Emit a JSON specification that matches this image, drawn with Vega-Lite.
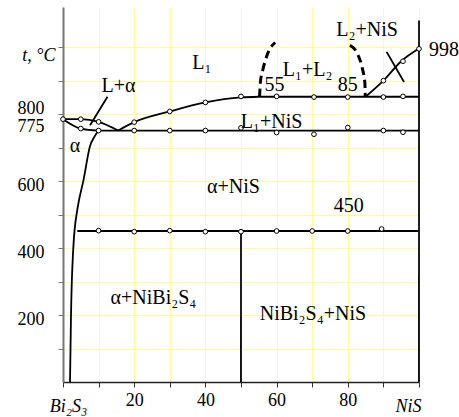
{
  "$schema": "https://vega.github.io/schema/vega-lite/v6.json",
  "width": 356,
  "height": 375,
  "autosize": {"type": "none"},
  "padding": {"left": 63, "top": 7, "right": 40, "bottom": 35},
  "config": {"view": {"stroke": null}, "font": "'Liberation Serif', 'Times New Roman', 'DejaVu Serif', serif"},
  "datasets": {
    "solid": [
      {"id": "liqL", "x": 0, "y": 785}, {"id": "liqL", "x": 5, "y": 785}, {"id": "liqL", "x": 10, "y": 777}, {"id": "liqL", "x": 15.5, "y": 751},
      {"id": "sol", "x": 0, "y": 785}, {"id": "sol", "x": 5, "y": 757}, {"id": "sol", "x": 10, "y": 751},
      {"id": "liqR", "x": 15.5, "y": 751}, {"id": "liqR", "x": 20, "y": 776}, {"id": "liqR", "x": 30, "y": 808}, {"id": "liqR", "x": 40, "y": 835}, {"id": "liqR", "x": 50, "y": 850}, {"id": "liqR", "x": 55, "y": 852},
      {"id": "mono", "x": 55, "y": 852}, {"id": "mono", "x": 100, "y": 852},
      {"id": "eut", "x": 10, "y": 751}, {"id": "eut", "x": 100, "y": 751},
      {"id": "l450", "x": 4, "y": 451}, {"id": "l450", "x": 100, "y": 451},
      {"id": "v50", "x": 50, "y": 0}, {"id": "v50", "x": 50.001, "y": 451},
      {"id": "solv", "x": 1.97, "y": 0}, {"id": "solv", "x": 2.25, "y": 200}, {"id": "solv", "x": 2.9, "y": 401}, {"id": "solv", "x": 4.0, "y": 513}, {"id": "solv", "x": 4.5, "y": 543}, {"id": "solv", "x": 5.7, "y": 600}, {"id": "solv", "x": 7.6, "y": 705}, {"id": "solv", "x": 8.8, "y": 732}, {"id": "solv", "x": 10, "y": 751},
      {"id": "liqN", "x": 85, "y": 852}, {"id": "liqN", "x": 90, "y": 900}, {"id": "liqN", "x": 95, "y": 958}, {"id": "liqN", "x": 100, "y": 996},
      {"id": "tick", "x": 90.9, "y": 986}, {"id": "tick", "x": 95.8, "y": 896},
      {"id": "ptr", "x": 7.6, "y": 767}, {"id": "ptr", "x": 12.5, "y": 852},
      {"id": "raxis", "x": 100, "y": 0}, {"id": "raxis", "x": 100.001, "y": 1080}
    ],
    "dashed": [
      {"id": "d1", "x": 55.2, "y": 852}, {"id": "d1", "x": 55.5, "y": 900}, {"id": "d1", "x": 56.1, "y": 931}, {"id": "d1", "x": 57.5, "y": 981}, {"id": "d1", "x": 59.6, "y": 1014},
      {"id": "d2", "x": 80.6, "y": 1006}, {"id": "d2", "x": 82.9, "y": 976}, {"id": "d2", "x": 84.1, "y": 936}, {"id": "d2", "x": 84.8, "y": 892}, {"id": "d2", "x": 84.9, "y": 852}
    ],
    "points": [
      {"x": 0, "y": 785}, {"x": 5, "y": 785}, {"x": 5, "y": 757}, {"x": 10, "y": 777}, {"x": 10, "y": 751},
      {"x": 20, "y": 776}, {"x": 20, "y": 751}, {"x": 30, "y": 808}, {"x": 30, "y": 751}, {"x": 40, "y": 835}, {"x": 40, "y": 751},
      {"x": 50, "y": 853}, {"x": 50, "y": 759}, {"x": 60, "y": 853}, {"x": 60, "y": 745}, {"x": 70.5, "y": 851}, {"x": 70.5, "y": 740},
      {"x": 80, "y": 851}, {"x": 80, "y": 760}, {"x": 90, "y": 900}, {"x": 90, "y": 851}, {"x": 90, "y": 751},
      {"x": 95.5, "y": 958}, {"x": 95.5, "y": 853}, {"x": 95.5, "y": 746}, {"x": 100, "y": 995},
      {"x": 10, "y": 452}, {"x": 20, "y": 449}, {"x": 30, "y": 452}, {"x": 40, "y": 449}, {"x": 50, "y": 449},
      {"x": 60, "y": 451}, {"x": 70, "y": 451}, {"x": 80, "y": 451}, {"x": 89.5, "y": 457}
    ],
    "labels": [
      {"t": "L₁", "x": 39, "y": 952},
      {"t": "L+α", "x": 15.6, "y": 884},
      {"t": "α", "x": 3.4, "y": 705},
      {"t": "L₁+L₂", "x": 68.7, "y": 931},
      {"t": "55", "x": 59.4, "y": 887},
      {"t": "85", "x": 80, "y": 887},
      {"t": "L₂+NiS", "x": 85.4, "y": 1051},
      {"t": "998", "x": 107, "y": 993},
      {"t": "L₁+NiS", "x": 58.6, "y": 777},
      {"t": "α+NiS", "x": 47.9, "y": 582},
      {"t": "450", "x": 80.3, "y": 525},
      {"t": "α+NiBi₂S₄", "x": 25.4, "y": 252},
      {"t": "NiBi₂S₄+NiS", "x": 70.2, "y": 202}
    ]
  },
  "encoding": {
    "x": {
      "field": "x", "type": "quantitative",
      "scale": {"domain": [0, 100], "nice": false, "zero": false},
      "axis": {
        "title": null,
        "values": [0, 10, 20, 30, 40, 50, 60, 70, 80, 90, 100],
        "labelExpr": "datum.value == 0 ? 'Bi₂S₃' : datum.value == 100 ? 'NiS' : (datum.value % 20 == 0 ? datum.label : '')",
        "labelFontSize": 18,
        "labelFlush": false,
        "labelOverlap": false,
        "labelColor": "#000",
        "labelFontStyle": {"condition": {"test": "datum.value == 0 || datum.value == 100", "value": "italic"}, "value": "normal"},
        "labelPadding": {"condition": {"test": "datum.value == 0 || datum.value == 100", "value": 10}, "value": 4},
        "labelOffset": {"condition": [{"test": "datum.value == 0", "value": 5}, {"test": "datum.value == 100", "value": -11}], "value": 0},
        "grid": true,
        "gridColor": "#ffff99",
        "gridWidth": 1,
        "tickSize": 5,
        "tickColor": "#333",
        "domainColor": "#222",
        "domainWidth": 1.5
      }
    },
    "y": {
      "field": "y", "type": "quantitative",
      "scale": {"domain": [0, 1120], "nice": false, "zero": false},
      "axis": {
        "title": null,
        "values": [100, 200, 300, 400, 500, 600, 700, 775, 800, 900, 1000],
        "labelExpr": "datum.value == 1000 ? 't, °C' : ((datum.value % 200 == 0 || datum.value == 775) ? datum.label : '')",
        "labelFontSize": 18,
        "labelOverlap": false,
        "labelFlush": false,
        "labelColor": "#000",
        "labelFontStyle": {"condition": {"test": "datum.value == 1000", "value": "italic"}, "value": "normal"},
        "labelPadding": {"condition": {"test": "datum.value == 1000", "value": 3}, "value": 14},
        "labelOffset": {"condition": [{"test": "datum.value == 800", "value": -6}, {"test": "datum.value == 775", "value": 4}, {"test": "datum.value == 1000", "value": 8}], "value": 4},
        "grid": true,
        "gridColor": "#ffff99",
        "gridOpacity": {"condition": {"test": "datum.value == 775", "value": 0}, "value": 1},
        "tickOpacity": {"condition": {"test": "datum.value == 775", "value": 0}, "value": 1},
        "tickSize": 5,
        "tickColor": "#777",
        "domainColor": "#777",
        "domainWidth": 2
      }
    }
  },
  "layer": [
    {
      "data": {"name": "solid"},
      "mark": {"type": "line", "interpolate": "monotone", "color": "#000", "strokeWidth": 1.8},
      "encoding": {"detail": {"field": "id"}}
    },
    {
      "data": {"name": "dashed"},
      "mark": {"type": "line", "interpolate": "monotone", "color": "#000", "strokeWidth": 3, "strokeDash": [8, 5]},
      "encoding": {"detail": {"field": "id"}}
    },
    {
      "data": {"name": "points"},
      "mark": {"type": "point", "shape": "circle", "filled": true, "fill": "#fff", "stroke": "#000", "strokeWidth": 1, "size": 22, "opacity": 1}
    },
    {
      "data": {"name": "labels"},
      "mark": {"type": "text", "fontSize": 20, "color": "#000", "align": "center", "baseline": "middle"},
      "encoding": {"text": {"field": "t"}}
    }
  ]
}
